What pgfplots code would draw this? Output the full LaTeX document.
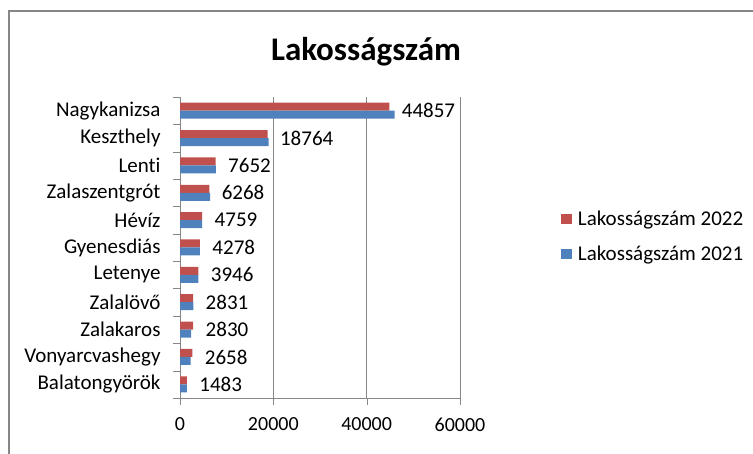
\documentclass[border=0pt]{standalone}
\usepackage{fontspec}
\setmainfont{Carlito}[Ligatures=NoCommon]
\usepackage{pgfplots}
\pgfplotsset{compat=1.18}
\definecolor{excelred}{HTML}{C0504D}
\definecolor{excelblue}{HTML}{4F81BD}
\definecolor{axisgray}{HTML}{868686}
\newcommand\lbl{\fontsize{21bp}{25bp}\selectfont}
\newcommand\num{\fontsize{20bp}{24bp}\selectfont}

\begin{document}
\begin{tikzpicture}
\path[use as bounding box] (0,0) rectangle (753bp,454bp);
\draw[axisgray,line width=2bp] (9bp,0) -- (9bp,443bp) -- (753bp,443bp);
\node[font=\fontsize{33bp}{38bp}\selectfont\bfseries] at (366bp,402bp) {Lakosságszám};
\begin{axis}[
  at={(180bp,56bp)},anchor=south west,
  width=280bp,height=301bp,scale only axis,
  xmin=0,xmax=60000,ymin=-0.5,ymax=10.5,
  axis lines=left,axis line style={-,axisgray},
  xtick={0,20000,40000,60000},
  scaled x ticks=false,
  ytick={0,...,10},
  yticklabels={Balatongyörök,Vonyarcvashegy,Zalakaros,Zalalövő,Letenye,Gyenesdiás,Hévíz,Zalaszentgrót,Lenti,Keszthely,Nagykanizsa},
  minor ytick={-0.5,0.5,...,10.5},
  major y tick style={draw=none},
  tick style={axisgray},
  tick align=outside,
  major tick length=7bp,minor tick length=7bp,
  xmajorgrids,grid style={axisgray},
  xticklabel style={font=\num,yshift=-9bp},
  yticklabel style={font=\lbl,xshift=-9bp},
  /pgf/number format/assume math mode=true,
  /pgf/number format/1000 sep={},
  legend style={at={(1.36,0.537)},anchor=west,draw=none,font=\lbl,
    row sep=15bp,inner sep=0pt},
  legend cell align=left,
  legend image code/.code={\fill[#1] (0bp,-5bp) rectangle (11bp,5bp);
    \path (15bp,0bp);},
]
\addplot[xbar,bar width=8bp,bar shift=4bp,fill=excelred,draw=none,
  nodes near coords,
  nodes near coords style={font=\lbl,anchor=west,xshift=9bp}]
  coordinates {(1483,0) (2658,1) (2830,2) (2831,3) (3946,4) (4278,5)
               (4759,6) (6268,7) (7652,8) (18764,9) (44857,10)};
\addlegendentry{Lakosságszám 2022}
\addplot[xbar,bar width=8bp,bar shift=-4bp,fill=excelblue,draw=none]
  coordinates {(1480,0) (2300,1) (2400,2) (2850,3) (3950,4) (4280,5)
               (4750,6) (6450,7) (7700,8) (19000,9) (46000,10)};
\addlegendentry{Lakosságszám 2021}
\end{axis}
\end{tikzpicture}
\end{document}
